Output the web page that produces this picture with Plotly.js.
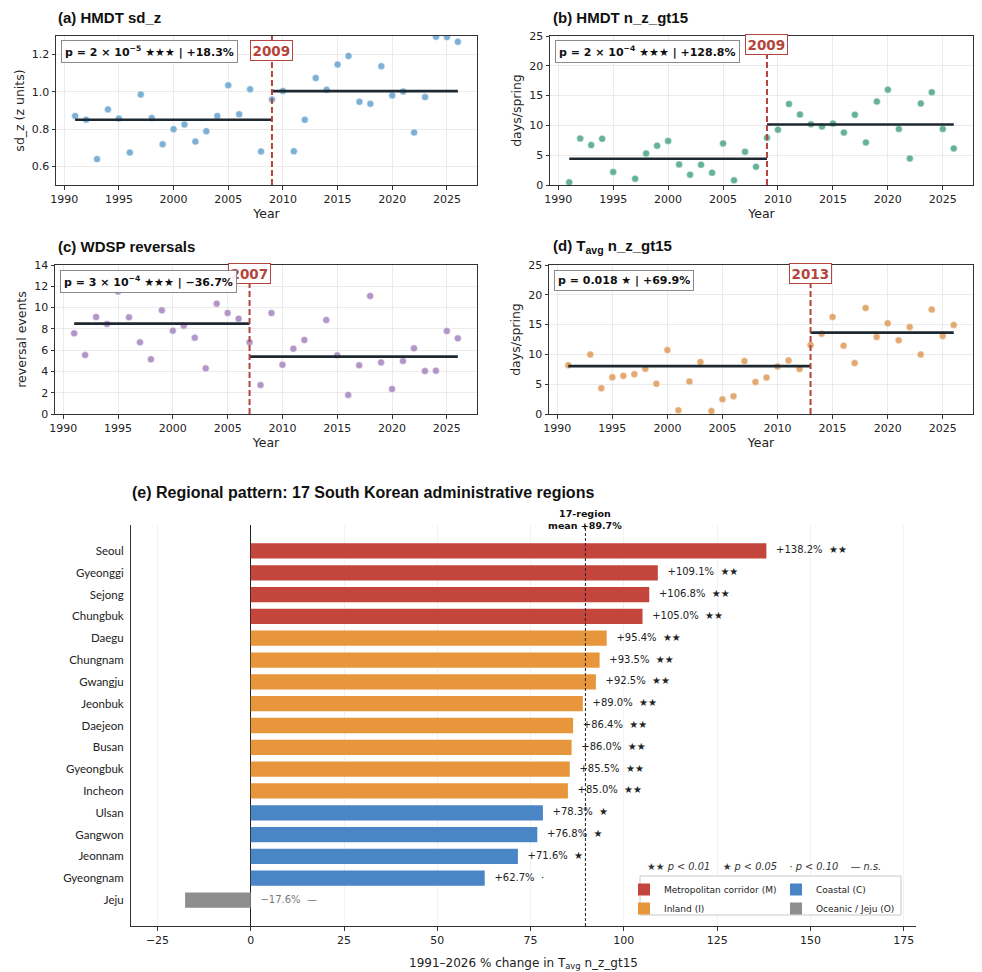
<!DOCTYPE html>
<html><head><meta charset="utf-8">
<script src="https://cdn.plot.ly/plotly-3.0.1.min.js"></script>
<style>html,body{margin:0;padding:0;background:#fff}#chart{width:982px;height:972px}</style>
</head><body><div id="chart"></div>
<script>
// ---------------- DATA ----------------
const years = [1991,1992,1993,1994,1995,1996,1997,1998,1999,2000,2001,2002,2003,2004,2005,2006,2007,2008,2009,2010,2011,2012,2013,2014,2015,2016,2017,2018,2019,2020,2021,2022,2023,2024,2025,2026];
const hmdtSdZ = [0.871,0.851,0.639,0.906,0.857,0.674,0.986,0.860,0.719,0.800,0.825,0.733,0.789,0.871,1.035,0.880,1.014,0.680,0.959,1.005,0.681,0.850,1.074,1.011,1.147,1.193,0.947,0.936,1.138,0.981,1.002,0.782,0.972,1.296,1.294,1.269];
const hmdtNz = [0.45,7.8,6.7,7.76,2.2,null,1.06,5.3,6.6,7.4,3.46,1.73,3.4,2.06,6.98,0.78,5.58,3.07,7.92,9.26,13.6,11.83,10.2,9.8,10.3,8.8,11.8,7.14,14.0,16.0,9.4,4.46,13.67,15.57,9.4,6.14];
const wdspRev = [7.58,5.54,9.11,8.46,11.5,9.08,6.73,5.14,9.74,7.83,8.3,7.17,4.29,10.37,9.49,8.96,6.73,2.72,9.49,4.63,6.14,6.95,null,8.83,5.51,1.79,4.57,11.09,4.85,2.35,4.98,6.17,4.04,4.07,7.8,7.11];
const tavgNz = [8.2,null,10.0,4.33,6.18,6.4,6.69,7.58,5.06,10.73,0.62,5.45,8.71,0.5,2.47,2.98,8.88,5.39,6.12,7.98,8.99,7.53,11.57,13.48,16.29,11.46,8.54,17.8,12.92,15.22,12.36,14.6,10.0,17.53,13.09,14.94];

const breakYears = [2009, 2009, 2007, 2013];
const preMeans = [0.850, 4.41, 8.49, 8.03];
const postMeans = [1.004, 10.16, 5.39, 13.65];
const pLabels = ["p = 2 × 10<sup>−5</sup> ★★★ | +18.3%", "p = 2 × 10<sup>−4</sup> ★★★ | +128.8%", "p = 3 × 10<sup>−4</sup> ★★★ | −36.7%", "p = 0.018 ★ | +69.9%"];
const panelTitles = ["(a) HMDT sd_z", "(b) HMDT n_z_gt15", "(c) WDSP reversals", "(d) T<sub>avg</sub> n_z_gt15"];
const yTitles = ["sd_z (z units)", "days/spring", "reversal events", "days/spring"];

const regions = ["Seoul","Gyeonggi","Sejong","Chungbuk","Daegu","Chungnam","Gwangju","Jeonbuk","Daejeon","Busan","Gyeongbuk","Incheon","Ulsan","Gangwon","Jeonnam","Gyeongnam","Jeju"];
const changes = [138.2,109.1,106.8,105.0,95.4,93.5,92.5,89.0,86.4,86.0,85.5,85.0,78.3,76.8,71.6,62.7,-17.6];
const groups = ["M","M","M","M","I","I","I","I","I","I","I","I","C","C","C","C","O"];
const sigLevels = ["**","**","**","**","**","**","**","**","**","**","**","**","*","*","*",".","ns"];
const regionMean = 89.7;
const groupNames = {M:"Metropolitan corridor (M)", I:"Inland (I)", C:"Coastal (C)", O:"Oceanic / Jeju (O)"};

// ---------------- STYLE ----------------
const W = 982, H = 972;
const fx = p => p / W, fy = p => 1 - p / H;
const FONT = "DejaVu Sans, sans-serif";
const TFONT = "Liberation Sans, Arial, sans-serif";
const pointColors = ["#6ea8d1", "#55aa8c", "#a98bc2", "#e1a062"];
const groupColors = {M:"#c4453b", I:"#e8963c", C:"#4a86c6", O:"#8e8e8e"};
const sigSymbols = {"**":"★★", "*":"★", ".":"·", "ns":"—"};
const series = [hmdtSdZ, hmdtNz, wdspRev, tavgNz];
const panelBoxes = [ // left, right, top, bottom px
  [56,477,36,185],[550,973,36,185],[55,477,265,414],[549,973,265,414]];
const yRanges = [[0.5,1.3],[0,25],[0,14],[0,25]];
const yDticks = [0.2,5,2,5];
const yTick0 = [0.6,0,0,0];
const yearLabelY = [0.905, 0.94, 0.94, 0.94];
const pLabelY = [0.893, 0.893, 0.886, 0.899];
const titlePos = [[56,18],[551,18],[56,247],[551,247]];

const traces = [];
const layout = {
  width: W, height: H, margin:{l:0,r:0,t:0,b:0},
  paper_bgcolor:"#fff", plot_bgcolor:"#fff",
  font:{family:FONT, size:11, color:"#222"},
  showlegend:true, barmode:"overlay",
  annotations:[], shapes:[]
};

for (let i = 0; i < 4; i++) {
  const n = i + 1;
  const xa = "x" + n, ya = "y" + n;
  const [l, r, t, b] = panelBoxes[i];
  layout["xaxis" + n] = {
    domain:[fx(l), fx(r)], anchor:ya, range:[1989.25, 2027.75], tick0:1990, dtick:5,
    ticks:"outside", ticklen:3.5, tickcolor:"#333", showline:true, mirror:true,
    linecolor:"#333", linewidth:1, showgrid:true, gridcolor:"#e6e6e6", gridwidth:0.8,
    zeroline:false, tickfont:{size:11, family:FONT, color:"#222"},
    title:{text:"Year", font:{size:12.5, family:FONT, color:"#222"}, standoff:3}
  };
  layout["yaxis" + n] = {
    domain:[fy(b), fy(t)], anchor:xa, range:yRanges[i], tick0:yTick0[i], dtick:yDticks[i],
    tickformat: i === 0 ? ".1f" : "d",
    ticks:"outside", ticklen:3.5, tickcolor:"#333", showline:true, mirror:true,
    linecolor:"#333", linewidth:1, showgrid:true, gridcolor:"#e6e6e6", gridwidth:0.8,
    zeroline:false, tickfont:{size:11, family:FONT, color:"#222"},
    title:{text:yTitles[i], font:{size:12.5, family:FONT, color:"#222"}, standoff:4}
  };
  traces.push({
    type:"scatter", mode:"markers", x:years, y:series[i], xaxis:xa, yaxis:ya,
    marker:{size:7, color:pointColors[i], opacity:0.9, line:{width:0.5, color:"#fff"}},
    showlegend:false, hoverinfo:"x+y"
  });
  const by = breakYears[i];
  traces.push({
    type:"scatter", mode:"lines", x:[years[0], by], y:[preMeans[i], preMeans[i]],
    xaxis:xa, yaxis:ya, line:{color:"#1e2830", width:2.6}, showlegend:false, hoverinfo:"skip"
  });
  traces.push({
    type:"scatter", mode:"lines", x:[by, years[years.length-1]], y:[postMeans[i], postMeans[i]],
    xaxis:xa, yaxis:ya, line:{color:"#1e2830", width:2.6}, showlegend:false, hoverinfo:"skip"
  });
  layout.shapes.push({
    type:"line", xref:xa, yref:ya + " domain", x0:by, x1:by, y0:0, y1:1,
    line:{color:"#b5453c", width:2, dash:"6px,3px"}, layer:"above"
  });
  layout.annotations.push({
    xref:xa, yref:ya + " domain", x:by, y:yearLabelY[i], xanchor:"center", yanchor:"middle",
    text:"<b>" + by + "</b>", showarrow:false,
    font:{size:13.5, family:FONT, color:"#b5453c"}, bgcolor:"#fff",
    bordercolor:"#b5453c", borderwidth:1, borderpad:1.5
  });
  layout.annotations.push({
    xref:xa + " domain", yref:ya + " domain", x:0.012, y:pLabelY[i], xanchor:"left", yanchor:"middle",
    text:"<b>" + pLabels[i] + "</b>", showarrow:false,
    font:{size:11, family:FONT, color:"#111"}, bgcolor:"rgba(255,255,255,0.92)",
    bordercolor:"#8a8a8a", borderwidth:1, borderpad:3
  });
  layout.annotations.push({
    xref:"paper", yref:"paper", x:fx(titlePos[i][0]), y:fy(titlePos[i][1]),
    xanchor:"left", yanchor:"middle", text:"<b>" + panelTitles[i] + "</b>", showarrow:false,
    font:{size:15, family:TFONT, color:"#111"}
  });
}

// ---------------- PANEL (e) ----------------
layout.xaxis5 = {
  domain:[fx(131), fx(916)], anchor:"y5", range:[-32.1, 178.3], tick0:0, dtick:25,
  ticks:"outside", ticklen:3.5, tickcolor:"#333", showline:true, linecolor:"#333", linewidth:1,
  showgrid:true, gridcolor:"#efefef", gridwidth:0.8,
  zeroline:true, zerolinecolor:"#222", zerolinewidth:1,
  tickfont:{size:11, family:FONT, color:"#222"},
  title:{text:"1991–2026 % change in T<sub>avg</sub> n_z_gt15", font:{size:12, family:FONT, color:"#222"}, standoff:12}
};
layout.yaxis5 = {
  domain:[fy(926), fy(525)], anchor:"x5", type:"category", categoryorder:"array",
  categoryarray:regions, range:[17.19, -1.19], showline:true, linecolor:"#333", linewidth:1,
  ticks:"", showgrid:false, zeroline:false, ticklabelstandoff:4,
  tickfont:{size:11.5, family:"Lato", color:"#222"}
};

["M","I","C","O"].forEach(g => {
  const idx = regions.map((r, k) => k).filter(k => groups[k] === g);
  traces.push({
    type:"bar", orientation:"h", xaxis:"x5", yaxis:"y5",
    y: idx.map(k => regions[k]), x: idx.map(k => changes[k]), width:0.7,
    marker:{color:groupColors[g], line:{width:0}}, name:groupNames[g],
    legend: (g === "M" || g === "I") ? "legend" : "legend2", hoverinfo:"x+y"
  });
});

const fmt = v => (v < 0 ? "−" : "+") + Math.abs(v).toFixed(1) + "%";
traces.push({
  type:"scatter", mode:"text", xaxis:"x5", yaxis:"y5", cliponaxis:false,
  y: regions, x: changes.map(v => Math.max(v, 0) + 2.6),
  text: changes.map((v, k) => fmt(v) + "\u00a0\u00a0" + sigSymbols[sigLevels[k]]),
  textposition:"middle right",
  textfont:{size:10, family:FONT, color: changes.map(v => v < 0 ? "#777" : "#222")},
  showlegend:false, hoverinfo:"skip"
});

layout.shapes.push({
  type:"line", xref:"x5", yref:"y5 domain", x0:regionMean, x1:regionMean, y0:0, y1:1,
  line:{color:"#222", width:1, dash:"3px,2px"}, layer:"above"
});
layout.annotations.push({
  xref:"x5", yref:"y5 domain", x:regionMean, y:1, yshift:-8, xanchor:"center", yanchor:"bottom",
  text:"<b>17-region<br>mean +" + regionMean.toFixed(1) + "%</b>", showarrow:false,
  font:{size:9.5, family:FONT, color:"#111"}
});
layout.annotations.push({
  xref:"paper", yref:"paper", x:fx(130), y:fy(492), xanchor:"left", yanchor:"middle",
  text:"<b>(e) Regional pattern: 17 South Korean administrative regions</b>", showarrow:false,
  font:{size:16, family:TFONT, color:"#111"}
});
layout.annotations.push({
  xref:"paper", yref:"paper", x:fx(764), y:fy(866), xanchor:"center", yanchor:"middle",
  text:"★★ <i>p &lt; 0.01</i>\u00a0\u00a0\u00a0\u00a0★ <i>p &lt; 0.05</i>\u00a0\u00a0\u00a0\u00a0· <i>p &lt; 0.10</i>\u00a0\u00a0\u00a0\u00a0— <i>n.s.</i>",
  showarrow:false, font:{size:9.8, family:FONT, color:"#333"}
});
// legend frame
layout.shapes.push({
  type:"rect", xref:"paper", yref:"paper", x0:fx(640), x1:fx(901), y0:fy(915), y1:fy(876),
  line:{color:"#c8c8c8", width:1}, fillcolor:"rgba(255,255,255,0.9)", layer:"above"
});
const legCommon = {yanchor:"top", xanchor:"left", bgcolor:"rgba(0,0,0,0)", borderwidth:0,
  font:{size:9, family:FONT, color:"#222"}, tracegroupgap:0, itemwidth:30, orientation:"v"};
layout.legend = Object.assign({x:fx(624), y:fy(875)}, legCommon);
layout.legend2 = Object.assign({x:fx(776), y:fy(875)}, legCommon);

Plotly.newPlot("chart", traces, layout, {displayModeBar:false, staticPlot:true});
</script>
</body></html>
